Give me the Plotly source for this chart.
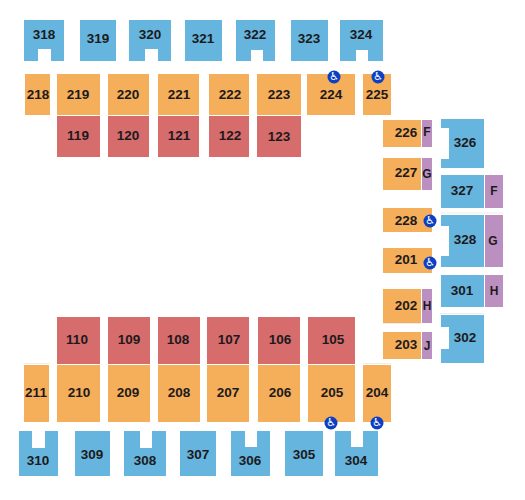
import plotly.graph_objects as go

BLUE = "#66B5DE"
ORANGE = "#F5AE5A"
RED = "#D76C6C"
PURPLE = "#BB90C0"
ICON = "#0B3FC4"
INK = "#1C1A1C"

# ---- 300 level (blue) ----
blue_names = ["318","319","320","321","322","323","324",
              "326","327","328","301","302",
              "310","309","308","307","306","305","304"]
blue_x0 = [24,80,129,185,236,291,340, 441,441,441,441,441, 19,75,124,180,231,285,335]
blue_x1 = [64,116,171,222,275,328,383, 484,484,484,484,484, 58,110,166,216,270,323,378]
blue_y0 = [20,20,20,20,20,20,20, 119,175,215,275,315, 431,431,431,431,431,431,431]
blue_y1 = [61,61,61,61,61,61,61, 168,208,267,307,363, 476,476,476,476,476,476,476]
blue_lx = [44,98,150,203,255,309,361, 465,462,465,462,465, 38,92,145,198,250,304,356]
blue_ly = [35,39,35,39,35,39,35, 143,191,240,291,338, 461,455,461,455,461,455,461]

# notches cut from the blue blocks: section, x0, x1, y0, y1
notch_names = ["318","320","322","324","326","328","302","310","308","306","304"]
notch_x0 = [38,145,251,356,441,441,441,32,140,245,351]
notch_x1 = [51,158,263,368,449,449,449,45,152,257,363]
notch_y0 = [49,49,50,50,128,226,327,431,431,431,431]
notch_y1 = [61,61,61,61,159,256,349,448,448,447,447]

# ---- 200 level (orange) ----
orange_names = ["218","219","220","221","222","223","224","225",
                "226","227","228","201","202","203",
                "211","210","209","208","207","206","205","204"]
orange_x0 = [25,57,108,158,209,257,307,363, 383,383,383,383,383,383, 24,57,108,158,207,258,308,363]
orange_x1 = [50,100,149,199,249,301,355,391, 421,421,432,432,421,421, 49,100,150,200,249,300,355,391]
orange_y0 = [74,74,74,74,74,74,74,74, 120,158,208,248,289,332, 365,365,365,365,365,365,365,365]
orange_y1 = [115,115,115,115,115,115,115,115, 147,190,232,273,323,359, 422,422,422,422,422,422,422,422]
orange_lx = [38,78,128,179,230,279,331,377, 406,406,406,406,406,406, 36,79,128,179,228,280,332,377]
orange_ly = [95,95,95,95,95,95,95,95, 133,173,221,260,306,345, 393,393,393,393,393,393,393,393]

# ---- 100 level (red) ----
red_names = ["119","120","121","122","123","110","109","108","107","106","105"]
red_x0 = [57,108,158,209,257, 57,108,158,207,258,308]
red_x1 = [100,149,199,249,301, 100,150,200,249,300,355]
red_y0 = [116,116,116,116,116, 317,317,317,317,317,317]
red_y1 = [157,157,157,157,157, 364,364,364,364,364,364]
red_lx = [78,128,179,230,279, 77,129,178,229,280,333]
red_ly = [136,136,136,136,137, 340,340,340,340,340,340]

# ---- lettered sections (purple) ----
purple_names = ["F","G","H","J","F","G","H"]
purple_x0 = [422,422,422,422,485,485,485]
purple_x1 = [432,432,432,432,503,503,503]
purple_y0 = [120,158,289,332,175,215,275]
purple_y1 = [147,190,323,359,208,267,307]
purple_lx = [427,427,427,427,494,493,494]
purple_ly = [132,174,306,346,191,241,291]

# ---- accessible seating ----
access_x = [334,378,430,430,331,377]
access_y = [77,77,221,263,423,423]
access_symbol = ["\u267F"] * 6

# Pale edge slivers beside some blocks
sliver_x0 = [23,363,440,441,383]
sliver_x1 = [50,391,484,503,421]
sliver_y = [363.5,363.5,313.5,213,323.5]

LABEL_DROP = 1


def ring(x0, x1, y0, y1):
    return [x0, x1, x1, x0, x0, None], [y0, y0, y1, y1, y0, None]


def blocks(x0s, x1s, y0s, y1s):
    xs, ys = [], []
    for a, b, c, d in zip(x0s, x1s, y0s, y1s):
        rx, ry = ring(a, b, c, d)
        xs += rx
        ys += ry
    return xs, ys


def blue_outline(i):
    n = blue_names[i]
    a, b, c, d = blue_x0[i], blue_x1[i], blue_y0[i], blue_y1[i]
    if n not in notch_names:
        return ring(a, b, c, d)
    j = notch_names.index(n)
    p, q, r, s = notch_x0[j], notch_x1[j], notch_y0[j], notch_y1[j]
    if p == a:      # open on the left
        return [a, b, b, a, a, q, q, a, a, None], [c, c, d, d, s, s, r, r, c, None]
    if s == d:      # open at the bottom
        return [a, b, b, q, q, p, p, a, a, None], [c, c, d, d, r, r, d, d, c, None]
    # open at the top
    return [a, p, p, q, q, b, b, a, a, None], [c, c, s, s, c, c, d, d, c, None]


def area(xs, ys, color):
    return go.Scatter(x=xs, y=ys, mode="lines", fill="toself", fillcolor=color,
                      line=dict(width=0, color=color), hoverinfo="skip", showlegend=False)


def labels(xs, ys, names, size=13.5):
    return go.Scatter(x=xs, y=[v + LABEL_DROP for v in ys], mode="text", text=names,
                      textposition="middle center",
                      textfont=dict(family="Liberation Sans", size=size, color=INK),
                      hoverinfo="skip", showlegend=False)


bx, by = [], []
for i in range(len(blue_names)):
    rx, ry = blue_outline(i)
    bx += rx
    by += ry

sx, sy = [], []
for a, b, c in zip(sliver_x0, sliver_x1, sliver_y):
    sx += [a, b, None]
    sy += [c, c, None]

fig = go.Figure()
fig.add_trace(go.Scatter(x=sx, y=sy, mode="lines", line=dict(width=1, color="#EEEDE8"),
                         hoverinfo="skip", showlegend=False))
fig.add_trace(area(bx, by, BLUE))
fig.add_trace(area(*blocks(orange_x0, orange_x1, orange_y0, orange_y1), ORANGE))
fig.add_trace(area(*blocks(red_x0, red_x1, red_y0, red_y1), RED))
fig.add_trace(area(*blocks(purple_x0, purple_x1, purple_y0, purple_y1), PURPLE))
for xs, ys, names, size in [(blue_lx, blue_ly, blue_names, 13.5),
                            (orange_lx, orange_ly, orange_names, 13.5),
                            (red_lx, red_ly, red_names, 13.5),
                            (purple_lx, purple_ly, purple_names, 12)]:
    fig.add_trace(labels(xs, ys, [f"<b>{n}</b>" for n in names], size))
fig.add_trace(go.Scatter(x=access_x, y=access_y, mode="markers+text", text=access_symbol,
                         textposition="middle center",
                         textfont=dict(family="DejaVu Sans", size=11, color="white"),
                         marker=dict(size=13, color=ICON, line=dict(width=0)),
                         hoverinfo="skip", showlegend=False))
fig.update_layout(
    width=517, height=492, margin=dict(l=0, r=0, t=0, b=0),
    paper_bgcolor="white", plot_bgcolor="white", showlegend=False,
    xaxis=dict(range=[8, 525], visible=False, fixedrange=True),
    yaxis=dict(range=[500, 8], visible=False, fixedrange=True),
)
fig.write_html("out.html", config={"displayModeBar": False})
